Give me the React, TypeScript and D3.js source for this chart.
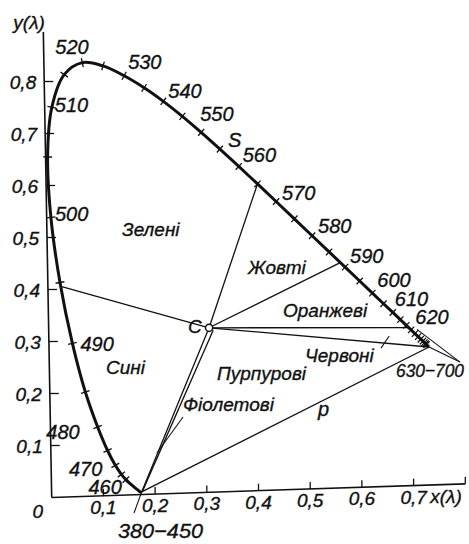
import React from 'react';
import * as d3 from 'd3';

// CIE 1931 chromaticity coordinates of the spectral locus (nm)
const wavelengths = [380, 400, 420, 430, 440, 445, 450, 455, 460, 465, 470, 475, 480, 485, 490, 495, 500, 505, 510, 515, 520, 525, 530, 535, 540, 545, 550, 555, 560, 565, 570, 575, 580, 585, 590, 595, 600, 605, 610, 615, 620, 625, 630, 635, 640, 645, 650, 655, 660, 665, 670, 680, 690, 700];
const locusX = [0.1741, 0.1733, 0.1714, 0.1689, 0.1644, 0.1611, 0.1566, 0.1510, 0.1440, 0.1355, 0.1241, 0.1096, 0.0913, 0.0687, 0.0454, 0.0235, 0.0082, 0.0039, 0.0139, 0.0389, 0.0743, 0.1142, 0.1547, 0.1929, 0.2296, 0.2658, 0.3016, 0.3373, 0.3731, 0.4087, 0.4441, 0.4788, 0.5125, 0.5448, 0.5752, 0.6029, 0.6270, 0.6482, 0.6658, 0.6801, 0.6915, 0.7006, 0.7079, 0.7140, 0.7190, 0.7230, 0.7260, 0.7283, 0.7300, 0.7311, 0.7320, 0.7334, 0.7344, 0.7347];
const locusY = [0.0050, 0.0048, 0.0051, 0.0069, 0.0109, 0.0138, 0.0177, 0.0227, 0.0297, 0.0399, 0.0578, 0.0868, 0.1327, 0.2007, 0.2950, 0.4127, 0.5384, 0.6548, 0.7502, 0.8120, 0.8338, 0.8262, 0.8059, 0.7816, 0.7543, 0.7243, 0.6923, 0.6589, 0.6245, 0.5896, 0.5547, 0.5202, 0.4866, 0.4544, 0.4242, 0.3965, 0.3725, 0.3514, 0.3340, 0.3197, 0.3083, 0.2993, 0.2920, 0.2859, 0.2809, 0.2770, 0.2740, 0.2717, 0.2700, 0.2689, 0.2680, 0.2666, 0.2656, 0.2653];

// wavelengths carrying a tick mark on the locus
const tickedWavelengths = [460, 465, 470, 475, 480, 485, 490, 495, 500, 505, 510, 515, 520, 525, 530, 535, 540, 545, 550, 555, 560, 565, 570, 575, 580, 585, 590, 595, 600, 605, 610, 615, 620, 625, 630, 635, 640, 645, 650, 655, 660];

// labelled wavelengths
const labelledWavelengths = [460, 470, 480, 490, 500, 510, 520, 530, 540, 550, 560, 570, 580, 590, 600, 610, 620];

// axis ticks
const axisTicks = [0.1, 0.2, 0.3, 0.4, 0.5, 0.6, 0.7, 0.8];
const axisTickLabels = ['0,1', '0,2', '0,3', '0,4', '0,5', '0,6', '0,7', '0,8'];

// white point C and the dominant-wavelength boundaries drawn from it
const whitePoint: [number, number] = [0.3101, 0.3162];
const boundaryEnds: [number, number][] = [
  [0.025, 0.405],   // blue / green
  [0.4087, 0.5896], // green / yellow
  [0.566, 0.433],   // yellow / orange
  [0.695, 0.304],   // orange / red
  [0.7347, 0.2653], // red / purple (630-700)
];
// the narrow violet wedge towards 380-450
const violetWedge: [number, number][][] = [
  [[0.3101, 0.3162], [0.1741, 0.005]],
  [[0.318, 0.311], [0.1755, 0.006]],
];
// line of purples p
const purpleLine: [number, number][] = [[0.1741, 0.005], [0.7347, 0.2653]];

// leader lines for labels
const leaders: [number, number][][] = [
  [[0.2567, 0.1463], [0.205, 0.0788]],   // Фіолетові
  [[0.6418, 0.2663], [0.658, 0.289]],    // Червоні
  [[0.1741, 0.005], [0.1586, -0.035]],   // 380-450
  [[0.7347, 0.2653], [0.794, 0.2344]],   // 630-700
  [[0.712, 0.300], [0.794, 0.2344]],     // 630-700
];

// region names
const regionNames = ['Зелені', 'Сині', 'Жовті', 'Оранжеві', 'Червоні', 'Пурпурові', 'Фіолетові'];

// ----- layout -----
const W = 469;
const H = 544;
const xScale = d3.scaleLinear().domain([0, 0.8]).range([51.7, 51.7 + 0.8 * 517]);
const yScale = d3.scaleLinear().domain([0, 0.8]).range([497.5, 497.5 - 0.8 * 520]);
// the drawing sits slightly askew on the sheet
const SKEW_X = 0.018;
const SKEW_Y = -0.033;
const X0 = xScale(0);
const Y0 = yScale(0);
function project(dx: number, dy: number): [number, number] {
  const px = xScale(dx);
  const py = yScale(dy);
  return [px + SKEW_X * (py - Y0), py + SKEW_Y * (px - X0)];
}

// label offsets from their locus point: [dx, dy, anchor]
const wlLabelOffset: Record<number, [number, number, string]> = {
  460: [-4, 14, 'end'],
  470: [-13, 11, 'end'],
  480: [-18, 12, 'end'],
  490: [8, 8, 'start'],
  500: [4, 4, 'start'],
  510: [3, 5, 'start'],
  520: [-27, -9, 'start'],
  530: [4, -7, 'start'],
  540: [5, -3, 'start'],
  550: [-1, -11, 'start'],
  560: [4, -4, 'start'],
  570: [6, -1, 'start'],
  580: [6, -3, 'start'],
  590: [5, -4, 'start'],
  600: [5, -6, 'start'],
  610: [2, -6, 'start'],
  620: [9, -1, 'start'],
};

const regionPos: [number, number][] = [
  [122, 236], [106, 374], [248, 274], [283, 317], [305, 362], [217, 380], [183, 411],
];

const FONT = "'Liberation Sans', Arial, sans-serif";

export default function App() {
  const pts = wavelengths.map((_, i) => project(locusX[i], locusY[i]));
  const curve = d3.line<[number, number]>().curve(d3.curveCatmullRom.alpha(0.5));
  const seg = d3.line<[number, number]>();
  const proj = (p: [number, number]) => project(p[0], p[1]);

  const locusTicks = tickedWavelengths.map((w) => {
    const i = wavelengths.indexOf(w);
    const a = pts[Math.max(0, i - 1)];
    const b = pts[Math.min(pts.length - 1, i + 1)];
    const tx = b[0] - a[0];
    const ty = b[1] - a[1];
    const len = Math.hypot(tx, ty) || 1;
    const nx = -ty / len;
    const ny = tx / len;
    const p = pts[i];
    const h = 4.5;
    return { w, d: seg([[p[0] - nx * h, p[1] - ny * h], [p[0] + nx * h, p[1] + ny * h]]) };
  });

  const origin = project(0, 0);
  const yTop = project(0, 0.895);
  const xEnd = project(0.8, 0);
  const c = project(whitePoint[0], whitePoint[1]);

  return (
    <svg width={W} height={H} style={{ position: 'absolute', left: 0, top: 0, background: '#fff' }}
      fontFamily={FONT} fontStyle="italic">
      <rect x={0} y={0} width={W} height={H} fill="#fff" />

      {/* axes */}
      <g stroke="#111" strokeWidth={1.6} fill="none">
        <path d={seg([origin, yTop]) || ''} />
        <path d={seg([origin, xEnd]) || ''} />
        {axisTicks.map((v) => {
          const p = project(0, v);
          return <path key={'yt' + v} d={seg([p, [p[0] + 9, p[1]]]) || ''} strokeWidth={1.3} />;
        })}
        {axisTicks.map((v) => {
          const p = project(v, 0);
          return <path key={'xt' + v} d={seg([p, [p[0], p[1] - 7]]) || ''} strokeWidth={1.3} />;
        })}
      </g>

      {/* dominant-wavelength boundaries */}
      <g stroke="#111" strokeWidth={1.3} fill="none">
        {boundaryEnds.map((e, i) => (
          <path key={'b' + i} d={seg([c, proj(e)]) || ''} />
        ))}
        {violetWedge.map((l, i) => (
          <path key={'v' + i} d={seg(l.map(proj)) || ''} />
        ))}
        <path d={seg(purpleLine.map(proj)) || ''} />
        {leaders.map((l, i) => (
          <path key={'l' + i} d={seg(l.map(proj)) || ''} strokeWidth={1.1} />
        ))}
      </g>

      {/* spectral locus */}
      <path d={curve(pts) || ''} fill="none" stroke="#111" strokeWidth={3} strokeLinejoin="round" />
      <g stroke="#111" strokeWidth={1.3}>
        {locusTicks.map((t) => <path key={'t' + t.w} d={t.d || ''} />)}
      </g>

      {/* white point */}
      <circle cx={c[0]} cy={c[1]} r={3.6} fill="#fff" stroke="#111" strokeWidth={1.5} />

      {/* all lettering */}
      <g fill="#111" stroke="#111" strokeWidth={0.35}>
        <g fontSize={19}>
          {axisTicks.map((v, i) => {
            const p = project(0, v);
            return <text key={'yl' + v} x={p[0] - 8} y={p[1] + 7} textAnchor="end">{axisTickLabels[i]}</text>;
          })}
          {axisTicks.slice(0, 7).map((v, i) => {
            const p = project(v, 0);
            return <text key={'xl' + v} x={p[0]} y={p[1] + 18} textAnchor="middle">{axisTickLabels[i]}</text>;
          })}
          <text x={origin[0] - 14} y={origin[1] + 20} textAnchor="middle">0</text>
          <text x={yTop[0] - 30} y={yTop[1] - 3}>y(λ)</text>
          <text x={xEnd[0] - 35} y={xEnd[1] + 19}>x(λ)</text>
        </g>

        <g fontSize={20}>
          {labelledWavelengths.map((w) => {
            const i = wavelengths.indexOf(w);
            const [dx, dy, anchor] = wlLabelOffset[w];
            return (
              <text key={'w' + w} x={pts[i][0] + dx} y={pts[i][1] + dy} textAnchor={anchor as any}>{w}</text>
            );
          })}
          <text x={118} y={538} fontSize={21} textLength={85} lengthAdjust="spacingAndGlyphs">380−450</text>
          <text x={396} y={377} fontSize={19} textLength={68} lengthAdjust="spacingAndGlyphs">630−700</text>
        </g>

        <text x={c[0] - 21} y={c[1] + 5} fontSize={19}>C</text>

        <g fontSize={19}>
          {regionNames.map((n, i) => (
            <text key={n} x={regionPos[i][0]} y={regionPos[i][1]}>{n}</text>
          ))}
          <text x={318} y={416} fontSize={20}>p</text>
          <text x={228} y={147} fontSize={20}>S</text>
        </g>
      </g>
    </svg>
  );
}
